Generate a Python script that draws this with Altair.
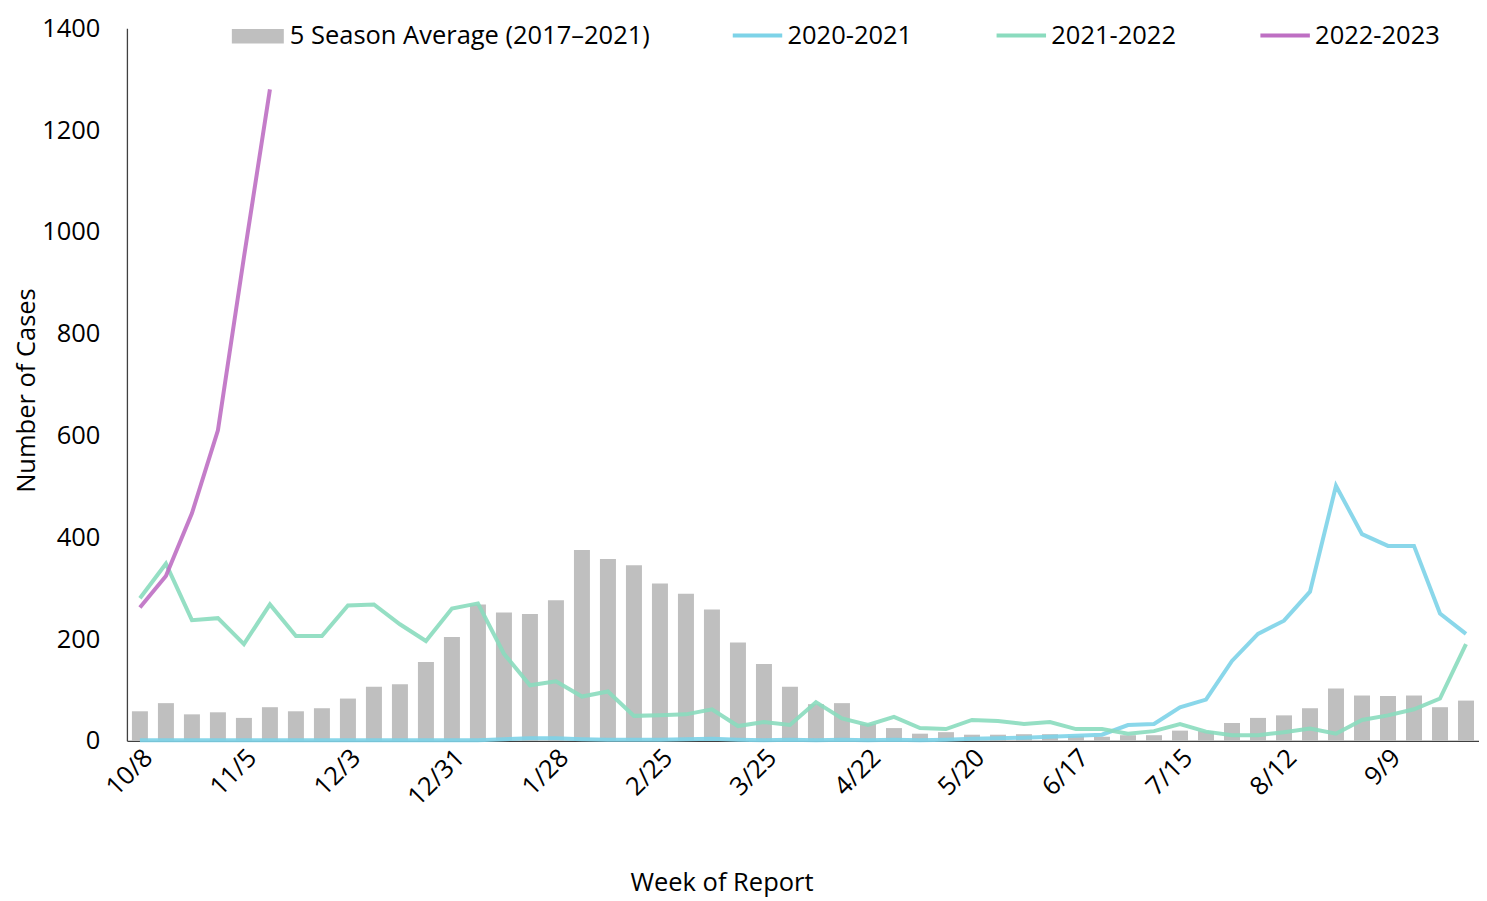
import altair as alt
import pandas as pd

weeks = ["10/8", "10/15", "10/22", "10/29", "11/5", "11/12", "11/19", "11/26",
         "12/3", "12/10", "12/17", "12/24", "12/31", "1/7", "1/14", "1/21",
         "1/28", "2/4", "2/11", "2/18", "2/25", "3/4", "3/11", "3/18",
         "3/25", "4/1", "4/8", "4/15", "4/22", "4/29", "5/6", "5/13",
         "5/20", "5/27", "6/3", "6/10", "6/17", "6/24", "7/1", "7/8",
         "7/15", "7/22", "7/29", "8/5", "8/12", "8/19", "8/26", "9/2",
         "9/9", "9/16", "9/23", "9/30"]

tick_labels = ["10/8", "11/5", "12/3", "12/31", "1/28", "2/25", "3/25",
               "4/22", "5/20", "6/17", "7/15", "8/12", "9/9"]

avg_5season = [58, 74, 52, 56, 45, 66, 58, 64, 83, 106, 111, 155, 204, 268, 252, 249,
               276, 375, 357, 345, 309, 289, 258, 193, 151, 106, 72, 74, 33, 25, 14, 17,
               12, 12, 13, 13, 10, 8, 11, 11, 20, 19, 35, 45, 50, 64, 103, 89,
               88, 89, 66, 79]

s2020_2021 = [1, 1, 1, 1, 1, 1, 1, 1, 1, 1, 1, 1, 1, 1, 3, 5,
              5, 3, 2, 2, 2, 3, 4, 2, 1, 2, 1, 2, 1, 2, 1, 2,
              4, 5, 6, 8, 10, 12, 31, 33, 66, 81, 157, 210, 236, 293, 501, 406,
              383, 383, 250, 210]

s2021_2022 = [280, 348, 237, 241, 190, 268, 206, 206, 266, 268, 229, 196, 260, 270, 171, 109,
              117, 87, 97, 49, 50, 52, 62, 29, 37, 31, 76, 44, 31, 47, 25, 23,
              41, 39, 33, 37, 23, 23, 14, 19, 33, 18, 11, 11, 17, 24, 14, 41,
              50, 62, 83, 190]

s2022_2023 = [262, 324, 447, 610, 950, 1280]

series_bar = "5 Season Average (2017–2021)"
line_names = ["2020-2021", "2021-2022", "2022-2023"]
line_colors = ["#7DD3E8", "#8ADBBE", "#BE6FC3"]

bar_df = pd.DataFrame({"week": weeks, "value": avg_5season, "series": series_bar})

rows = []
for name, vals in zip(line_names, [s2020_2021, s2021_2022, s2022_2023]):
    for i, v in enumerate(vals):
        rows.append({"week": weeks[i], "idx": i, "value": v, "series": name})
line_df = pd.DataFrame(rows)

FONT = "Open Sans"
FS = 25.5

x_enc = alt.X(
    "week:O",
    sort=weeks,
    scale=alt.Scale(paddingInner=0.38, paddingOuter=0.19),
    axis=alt.Axis(
        values=tick_labels,
        labelAngle=-45,
        ticks=False,
        labelPadding=4,
        title="Week of Report",
        titleX=595,
        titleY=142,
        titleBaseline="middle",
        titleAlign="center",
    ),
)

y_enc = alt.Y(
    "value:Q",
    scale=alt.Scale(domain=[0, 1400], nice=False),
    axis=alt.Axis(
        values=list(range(0, 1401, 200)),
        format="d",
        ticks=False,
        grid=False,
        labelPadding=27,
        title="Number of Cases",
        titlePadding=2,
        titleY=362,
        titleAlign="center",
    ),
)

bars = alt.Chart(bar_df).mark_bar(size=16).encode(
    x=x_enc,
    y=y_enc,
    fill=alt.Fill(
        "series:N",
        scale=alt.Scale(domain=[series_bar], range=["#BFBFBF"]),
        legend=alt.Legend(
            title=None,
            orient="none",
            legendX=105,
            legendY=-18,
            symbolType="M-1,-0.28L1,-0.28L1,0.28L-1,0.28Z",
            symbolSize=2704,
            symbolStrokeWidth=0,
            labelOffset=6,
        ),
    ),
)

lines = alt.Chart(line_df).mark_line(strokeWidth=4, strokeOpacity=0.9).encode(
    x=alt.X("week:O", sort=weeks),
    y=alt.Y("value:Q"),
    order="idx:Q",
    stroke=alt.Stroke(
        "series:N",
        scale=alt.Scale(domain=line_names, range=line_colors),
        legend=alt.Legend(
            title=None,
            orient="none",
            direction="horizontal",
            legendX=604,
            legendY=-20,
            symbolType="stroke",
            symbolSize=2450,
            symbolStrokeWidth=4,
            labelOffset=3,
            columnPadding=76,
        ),
    ),
)

chart = alt.layer(bars, lines).properties(
    width=1353,
    height=713,
    autosize=alt.AutoSizeParams(type="none"),
    padding={"left": 119, "top": 20, "right": 0, "bottom": 160},
).configure_view(stroke=None).configure_axis(
    labelFont=FONT,
    titleFont=FONT,
    labelFontSize=FS,
    titleFontSize=FS,
    labelColor="#000000",
    titleColor="#000000",
    titleFontWeight="normal",
    domainColor="#404040",
    domainWidth=1.3,
).configure_legend(
    labelFont=FONT,
    labelFontSize=FS,
    labelColor="#000000",
    labelLimit=0,
)

chart.save("out.html", embed_options={"renderer": "svg", "actions": False})
